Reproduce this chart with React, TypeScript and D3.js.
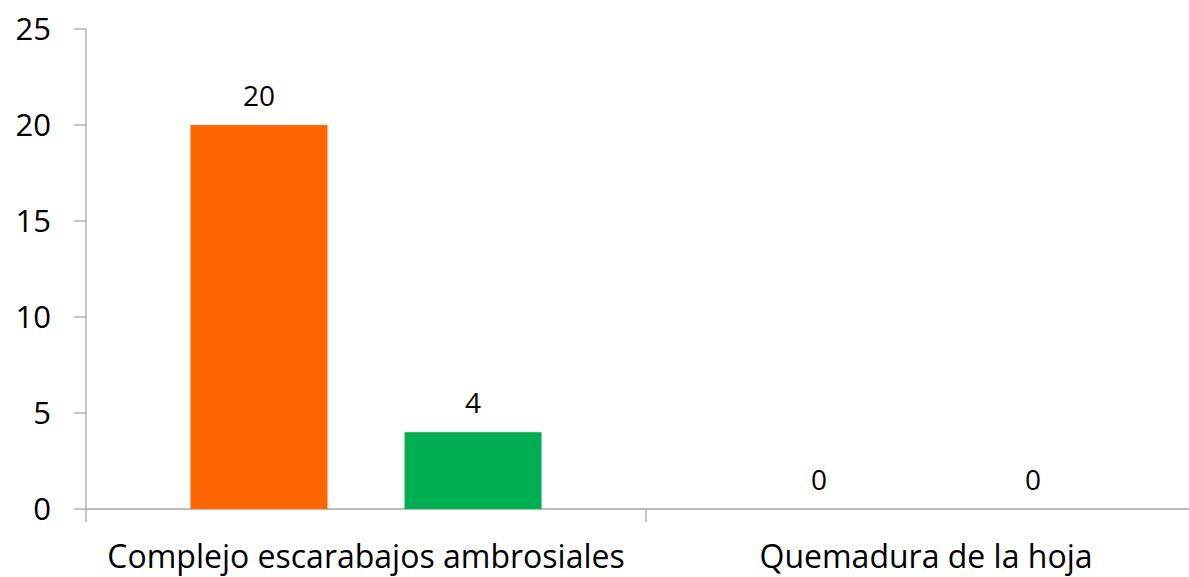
import React, { useEffect, useRef } from 'react';
import * as d3 from 'd3';

const categories = ['Complejo escarabajos ambrosiales', 'Quemadura de la hoja'];
const seriesNames = ['Serie 1', 'Serie 2'];
const seriesA = [20, 0];
const seriesB = [4, 0];
const yTicks = [0, 5, 10, 15, 20, 25];
const seriesColors = ['#FF6600', '#00B050'];

const WIDTH = 1189;
const HEIGHT = 577;
const FONT = "'Open Sans', sans-serif";

const App: React.FC = () => {
  const ref = useRef<SVGSVGElement | null>(null);

  useEffect(() => {
    if (!ref.current) return;
    const svg = d3.select(ref.current);
    svg.selectAll('*').remove();

    const axisColor = '#A6A6A6';
    const left = 86;
    const top = 29;
    const bottom = 509;

    const y = d3.scaleLinear().domain([0, 25]).range([bottom, top]);
    // second category runs off the right edge like the original
    const x0 = d3.scaleBand<string>().domain(categories).range([left, left + 560 * 2]).padding(0);
    const x1 = d3.scaleBand<string>().domain(seriesNames).range([0, x0.bandwidth()])
      .paddingInner(0.36).paddingOuter(0.488);

    const rows = categories.map((c, i) => ({ category: c, values: [seriesA[i], seriesB[i]] }));

    // y axis
    svg.append('line')
      .attr('x1', left).attr('x2', left)
      .attr('y1', top).attr('y2', bottom + 13)
      .attr('stroke', axisColor).attr('stroke-width', 1.3);

    const yt = svg.append('g');
    yt.selectAll('line').data(yTicks).join('line')
      .attr('x1', left - 12).attr('x2', left)
      .attr('y1', d => y(d)).attr('y2', d => y(d))
      .attr('stroke', axisColor).attr('stroke-width', 1.3);
    yt.selectAll('text').data(yTicks).join('text')
      .attr('x', left - 35).attr('y', d => y(d))
      .attr('dy', '0.36em')
      .attr('text-anchor', 'end')
      .style('font-family', FONT).style('font-size', '31px').attr('fill', '#000')
      .text(d => d);

    // x axis
    svg.append('line')
      .attr('x1', left).attr('x2', WIDTH)
      .attr('y1', bottom).attr('y2', bottom)
      .attr('stroke', axisColor).attr('stroke-width', 1.3);
    svg.append('line')
      .attr('x1', x0(categories[1])!).attr('x2', x0(categories[1])!)
      .attr('y1', bottom).attr('y2', bottom + 13)
      .attr('stroke', axisColor).attr('stroke-width', 1.3);

    svg.selectAll('text.cat').data(categories).join('text')
      .attr('class', 'cat')
      .attr('x', d => x0(d)! + x0.bandwidth() / 2)
      .attr('y', 568)
      .attr('text-anchor', 'middle')
      .style('font-family', FONT).style('font-size', '32px').attr('fill', '#000')
      .text(d => d);

    // bars
    const groups = svg.selectAll('g.grp').data(rows).join('g')
      .attr('class', 'grp')
      .attr('transform', d => `translate(${x0(d.category)},0)`);

    groups.selectAll('rect')
      .data(d => d.values.map((v, i) => ({ key: seriesNames[i], value: v, color: seriesColors[i] })))
      .join('rect')
      .attr('x', d => x1(d.key)!)
      .attr('width', x1.bandwidth())
      .attr('y', d => y(d.value))
      .attr('height', d => y(0) - y(d.value))
      .attr('fill', d => d.color);

    groups.selectAll('text')
      .data(d => d.values.map((v, i) => ({ key: seriesNames[i], value: v })))
      .join('text')
      .attr('x', d => x1(d.key)! + x1.bandwidth() / 2)
      .attr('y', d => y(d.value) - 19)
      .attr('text-anchor', 'middle')
      .style('font-family', FONT).style('font-size', '28px').attr('fill', '#000')
      .text(d => d.value);
  }, []);

  return (
    <div style={{ position: 'absolute', left: 0, top: 0 }}>
      <svg ref={ref} width={WIDTH} height={HEIGHT} style={{ display: 'block', background: '#fff' }} />
    </div>
  );
};

export default App;
